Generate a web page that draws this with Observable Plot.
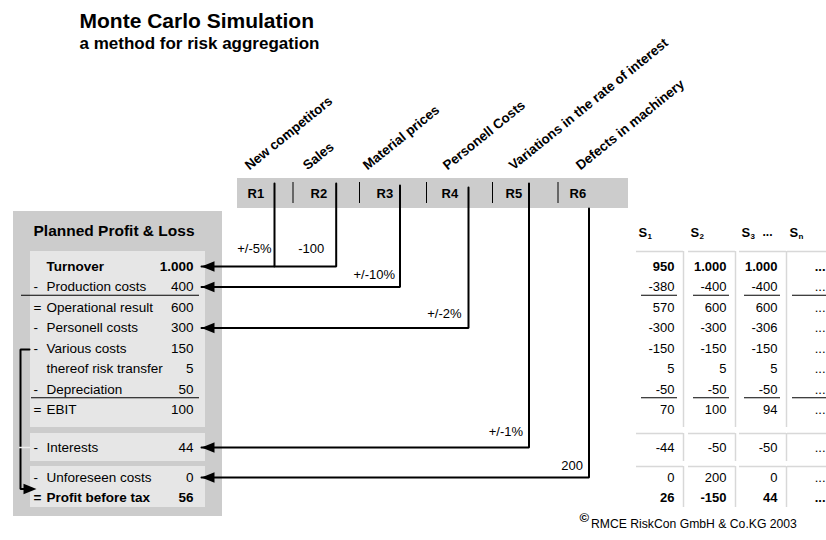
<!DOCTYPE html>
<html>
<head>
<meta charset="utf-8">
<script src="https://cdn.jsdelivr.net/npm/d3@7"></script>
<script src="https://cdn.jsdelivr.net/npm/@observablehq/plot@0.6"></script>
<style>
  body { margin: 0; background: #fff; }
</style>
</head>
<body>
<div id="chart"></div>
<script>
// ---------------- data ----------------
const title = "Monte Carlo Simulation";
const subtitle = "a method for risk aggregation";
const plHeader = "Planned Profit & Loss";
const credit = "RMCE RiskCon GmbH & Co.KG 2003";

const riskIds = ["R1", "R2", "R3", "R4", "R5", "R6"];
const riskNames = ["New competitors", "Sales", "Material prices", "Personell Costs",
  "Variations in the rate of interest", "Defects in machinery"];
const riskParams = ["+/-5%", "-100", "+/-10%", "+/-2%", "+/-1%", "200"];
const riskTargets = ["Turnover", "Turnover", "Production costs", "Personell costs",
  "Interests", "Unforeseen costs"];

const plPrefixes = ["", "-", "=", "-", "-", "", "-", "=", "-", "-", "="];
const plLabels = ["Turnover", "Production costs", "Operational result", "Personell costs",
  "Various costs", "thereof risk transfer", "Depreciation", "EBIT", "Interests",
  "Unforeseen costs", "Profit before tax"];
const plValues = [1000, 400, 600, 300, 150, 5, 50, 100, 44, 0, 56];
const plBlocks = [0, 0, 0, 0, 0, 0, 0, 0, 1, 2, 2];
const boldRows = ["Turnover", "Profit before tax"];
const underlinedRows = ["Production costs", "Depreciation"];

const scenarioSubs = ["1", "2", "3", "n"];
const s1 = [950, -380, 570, -300, -150, 5, -50, 70, -44, 0, 26];
const s2 = [1000, -400, 600, -300, -150, 5, -50, 100, -50, 200, -150];
const s3 = [1000, -400, 600, -306, -150, 5, -50, 94, -50, 0, 44];
const sn = ["...", "...", "...", "...", "...", "...", "...", "...", "...", "...", "..."];

// ---------------- layout (pixels) ----------------
const L = {
  rowTop: 266, rowStep: 20.5, blockGap: [0, 17, 26.5],
  blocks: [[251, 427], [433, 461], [466, 507]],
  plBox: [13, 222, 211, 516], plInner: [30, 205],
  prefixX: 33, labelX: 46, valueX: 193,
  underlineX1: [21, 31], underlineX2: 199,
  band: [237, 628, 178, 208], bandDividers: [292.5, 359, 426, 492, 557.5],
  riskLabelX: [247, 310, 376, 441, 505, 569],
  riskLineX: [274, 335.7, 399.5, 468, 528.5, 588.5],
  riskLineTop: [183, 183, 185, 187, 183, 208],
  nameX: [249, 307, 367, 447, 513, 580], nameY: 170,
  paramDx: [-3, -12, -5, -7, -6, -6], paramDy: [-18, -18, -12, -14, -16, -12],
  arrowTip: 201,
  colRight: [674, 726, 777, 825]
};
const rowY = i => L.rowTop + i * L.rowStep + L.blockGap[plBlocks[i]];
const rowIndex = name => plLabels.indexOf(name);
const fmt = d3.formatLocale({decimal: ",", thousands: ".", grouping: [3], currency: ["", "€"], minus: "-"}).format(",d");

const font = "'Liberation Sans', Arial, Helvetica, sans-serif";

// arrowhead symbol: tip at origin, body extending to +x
const arrowHead = {
  draw(ctx, size) {
    const r = Math.sqrt(size / Math.PI);
    ctx.moveTo(0, 0);
    ctx.lineTo(2 * r, -0.82 * r);
    ctx.lineTo(2 * r, 0.82 * r);
    ctx.closePath();
  }
};

// ---------------- derived tables ----------------
const rows = plLabels.map((label, i) => ({
  label, prefix: plPrefixes[i], value: fmt(plValues[i]), y: rowY(i), bold: boldRows.includes(label)
}));
const blocksData = L.blocks.map(([top, bottom]) => ({top, bottom}));

const scen = [s1, s2, s3, sn];
const cells = [];
scen.forEach((col, j) => col.forEach((v, i) => cells.push({
  x: L.colRight[j], y: rowY(i), text: typeof v === "number" ? fmt(v) : v,
  bold: boldRows.includes(plLabels[i])
})));
const colBoxes = [];
L.colRight.forEach(r => blocksData.forEach(b => colBoxes.push({x1: r - 38, x2: r + 9, top: b.top, bottom: b.bottom})));
const underlines = [];
underlinedRows.forEach((name, k) => {
  const y = (rowY(rowIndex(name)) + rowY(rowIndex(name) + 1)) / 2 - 2;
  underlines.push({x1: L.underlineX1[k], x2: L.underlineX2, y});
  L.colRight.forEach(r => underlines.push({x1: r - 33, x2: r + 3, y}));
});

const risks = riskIds.map((id, i) => {
  const ty = rowY(rowIndex(riskTargets[i]));
  const joins = i > 0 && riskTargets[i] === riskTargets[i - 1];
  return {
    id, name: riskNames[i], param: riskParams[i], i, ty,
    lx: L.riskLineX[i], top: L.riskLineTop[i],
    endX: joins ? L.riskLineX[i - 1] : L.arrowTip, head: !joins
  };
});
const riskPaths = risks.flatMap(r => [
  {id: r.id, x: r.lx, y: r.top}, {id: r.id, x: r.lx, y: r.ty}, {id: r.id, x: r.endX, y: r.ty}
]);
const variousY = rowY(rowIndex("Various costs"));
const profitY = rowY(rowIndex("Profit before tax"));
const bracket = [
  {x: 29, y: variousY + 1}, {x: 20, y: variousY + 1}, {x: 20, y: profitY - 9}, {x: 30, y: profitY - 9}
];

const T = (data, o) => Plot.text(data, {fontFamily: font, fill: "black", ...o});

const chart = Plot.plot({
  width: 826, height: 540,
  margin: 0,
  x: {domain: [0, 826], range: [0, 826], axis: null},
  y: {domain: [0, 540], range: [0, 540], axis: null},
  style: {fontFamily: font, background: "white"},
  marks: [
    // boxes
    Plot.rect([L.plBox], {x1: d => d[0], x2: d => d[1], y1: d => d[2], y2: d => d[3], fill: "#cccccc"}),
    Plot.rect(blocksData, {x1: () => L.plInner[0], x2: () => L.plInner[1], y1: "top", y2: "bottom", fill: "#e6e6e6"}),
    Plot.rect([L.band], {x1: d => d[0], x2: d => d[1], y1: d => d[2], y2: d => d[3], fill: "#cccccc"}),
    Plot.ruleX(L.bandDividers, {x: d => d, y1: () => 182, y2: () => 203, stroke: "black", strokeWidth: 1}),
    // scenario column frames
    Plot.ruleY(colBoxes, {y: "top", x1: "x1", x2: "x2", stroke: "#d8d8d8", strokeWidth: 1.5}),
    Plot.ruleX(colBoxes, {x: "x2", y1: "top", y2: "bottom", stroke: "#d8d8d8", strokeWidth: 1.5}),
    Plot.ruleY(underlines, {y: "y", x1: "x1", x2: "x2", stroke: "black", strokeWidth: 1.2}),
    // titles
    T([title], {x: () => 79, y: () => 27.5, text: d => d, textAnchor: "start", lineAnchor: "bottom", fontSize: 21, fontWeight: "bold"}),
    T([subtitle], {x: () => 79, y: () => 48.3, text: d => d, textAnchor: "start", lineAnchor: "bottom", fontSize: 17, fontWeight: "bold"}),
    T([plHeader], {x: () => 33, y: () => 231, text: d => d, textAnchor: "start", lineAnchor: "middle", fontSize: 15.5, fontWeight: "bold"}),
    // risk names and ids
    T(risks, {x: d => L.nameX[d.i], y: () => L.nameY, text: "name", rotate: -39, textAnchor: "start", lineAnchor: "bottom", fontSize: 13.4, fontWeight: "bold"}),
    T(risks, {x: d => L.riskLabelX[d.i], y: () => 197, text: "id", textAnchor: "start", lineAnchor: "bottom", fontSize: 13, fontWeight: "bold"}),
    T(risks, {x: d => d.lx + L.paramDx[d.i], y: d => d.ty + L.paramDy[d.i], text: "param", textAnchor: "end", lineAnchor: "middle", fontSize: 13}),
    // P&L rows
    T(rows.filter(d => !d.bold), {x: () => L.prefixX, y: "y", text: "prefix", textAnchor: "start", lineAnchor: "middle", fontSize: 13.5}),
    T(rows.filter(d => !d.bold), {x: () => L.labelX, y: "y", text: "label", textAnchor: "start", lineAnchor: "middle", fontSize: 13.5}),
    T(rows.filter(d => !d.bold), {x: () => L.valueX, y: "y", text: "value", textAnchor: "end", lineAnchor: "middle", fontSize: 13.5}),
    T(rows.filter(d => d.bold), {x: () => L.prefixX, y: "y", text: "prefix", textAnchor: "start", lineAnchor: "middle", fontSize: 13.5, fontWeight: "bold"}),
    T(rows.filter(d => d.bold), {x: () => L.labelX, y: "y", text: "label", textAnchor: "start", lineAnchor: "middle", fontSize: 13.5, fontWeight: "bold"}),
    T(rows.filter(d => d.bold), {x: () => L.valueX, y: "y", text: "value", textAnchor: "end", lineAnchor: "middle", fontSize: 13.5, fontWeight: "bold"}),
    // scenario headers
    T(scenarioSubs, {x: (d, i) => L.colRight[i] - 36, y: () => 232, text: () => "S", textAnchor: "start", lineAnchor: "middle", fontSize: 13, fontWeight: "bold"}),
    T(scenarioSubs, {x: (d, i) => L.colRight[i] - 27, y: () => 236, text: d => d, textAnchor: "start", lineAnchor: "middle", fontSize: 8, fontWeight: "bold"}),
    T(["..."], {x: () => L.colRight[2] - 15, y: () => 232, text: d => d, textAnchor: "start", lineAnchor: "middle", fontSize: 12, fontWeight: "bold"}),
    // scenario values
    T(cells.filter(d => !d.bold), {x: "x", y: "y", text: "text", textAnchor: "end", lineAnchor: "middle", fontSize: 13}),
    T(cells.filter(d => d.bold), {x: "x", y: "y", text: "text", textAnchor: "end", lineAnchor: "middle", fontSize: 13, fontWeight: "bold"}),
    // arrows
    Plot.line(riskPaths, {x: "x", y: "y", z: "id", stroke: "black", strokeWidth: 2, strokeLinejoin: "miter"}),
    Plot.dot(risks.filter(d => d.head), {x: () => L.arrowTip, y: "ty", symbol: arrowHead, r: 6.5, fill: "black", stroke: "none"}),
    Plot.line(bracket, {x: "x", y: "y", stroke: "black", strokeWidth: 2, strokeLinejoin: "miter"}),
    Plot.ruleY([rowY(rowIndex("Interests"))], {y: d => d, x1: () => 19, x2: () => 30, stroke: "#eeeeee", strokeWidth: 1.5}),
    Plot.dot([profitY - 9], {x: () => 36, y: d => d, symbol: arrowHead, r: 6.5, rotate: 180, fill: "black", stroke: "none"}),
    // credit
    T(["©"], {x: () => 579, y: () => 521, text: d => d, textAnchor: "start", lineAnchor: "bottom", fontSize: 13, fontWeight: "bold"}),
    T([credit], {x: () => 590.5, y: () => 527, text: d => d, textAnchor: "start", lineAnchor: "bottom", fontSize: 12.2})
  ]
});
document.getElementById("chart").appendChild(chart);
</script>
</body>
</html>
